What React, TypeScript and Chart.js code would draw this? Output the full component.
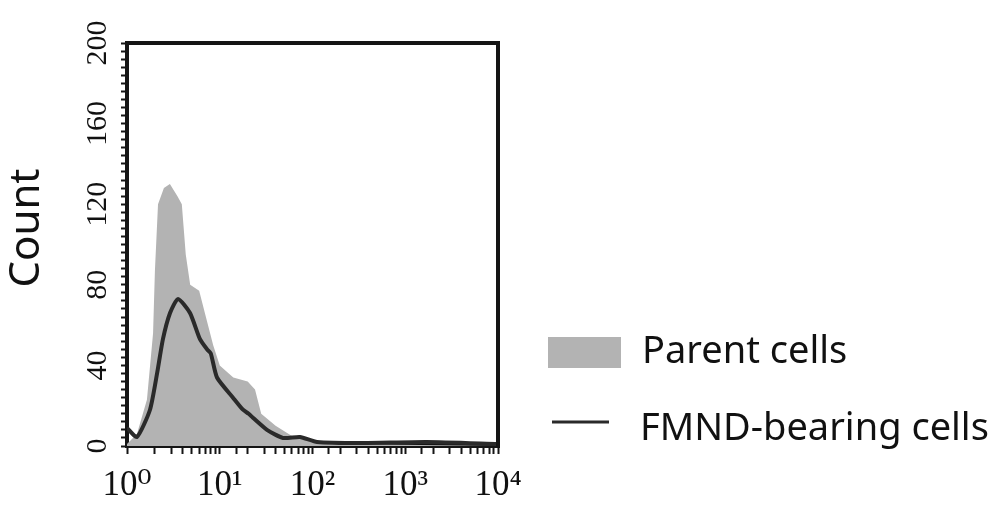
import React, { useEffect, useRef } from 'react';
import { Chart, registerables } from 'chart.js';

Chart.register(...registerables);

// ---- data ----
const parentLabel = 'Parent cells';
const fmndLabel = 'FMND-bearing cells';
const yTitle = 'Count';

const parentX = [1, 1.28, 1.64, 1.91, 2.0, 2.16, 2.5, 2.9, 3.5, 3.9, 4.3, 4.8, 6.0, 7.0, 8.5, 10, 14, 20, 24, 28, 40, 60, 100, 200, 10000];
const parentY = [1, 6, 23, 56, 87, 120, 128, 130, 124, 120, 95, 80, 77, 65, 50, 40, 34, 32, 28, 16, 10, 5, 2, 1, 0];

const fmndX = [1.0, 1.28, 1.77, 2.11, 2.44, 2.91, 3.55, 4.78, 6.12, 7.29, 8.0, 9.34, 13.9, 17.8, 20.5, 22.8, 32.3, 48.1, 73.3, 112, 330, 1700, 10000];
const fmndY = [9, 4.5, 18, 36, 53, 66, 73, 66, 53, 48, 46, 34, 24, 18, 16, 14, 8, 4, 4.5, 2, 1.5, 2, 1];

const yMin = 0;
const yMax = 200;
const yMajorStep = 40;
const yMinorStep = 4;
const xMin = 1;
const xMax = 10000;
const supDigits = ['⁰', '¹', '²', '³', '⁴', '⁵', '⁶', '⁷', '⁸', '⁹'];

const AXIS = '#151515';
const GRAY = '#b3b3b3';
const LINE = '#2a2a2a';

const framePlugin = {
  id: 'frameAndLegend',
  afterDraw(chart: any) {
    const { ctx, chartArea: a } = chart;
    ctx.save();
    // top and right frame
    ctx.strokeStyle = AXIS;
    ctx.lineWidth = 4;
    ctx.beginPath();
    ctx.moveTo(a.left - 2, a.top);
    ctx.lineTo(a.right, a.top);
    ctx.lineTo(a.right, a.bottom + 2);
    ctx.stroke();

    // y title
    ctx.save();
    ctx.translate(27, 228);
    ctx.rotate(-Math.PI / 2);
    ctx.font = '42px "Noto Sans"';
    ctx.fillStyle = '#111';
    ctx.textAlign = 'center';
    ctx.textBaseline = 'middle';
    ctx.fillText(yTitle, 0, 0);
    ctx.restore();

    // legend
    const ds = chart.data.datasets;
    ctx.fillStyle = GRAY;
    ctx.fillRect(548, 337, 73, 31);
    ctx.strokeStyle = LINE;
    ctx.lineWidth = 3;
    ctx.beginPath();
    ctx.moveTo(552, 422);
    ctx.lineTo(609, 422);
    ctx.stroke();
    ctx.fillStyle = '#111';
    ctx.font = '38px "Noto Sans"';
    ctx.textAlign = 'left';
    ctx.textBaseline = 'alphabetic';
    ctx.fillText(ds[0].label, 642, 363);
    ctx.fillText(ds[1].label, 640, 440);
    ctx.restore();
  },
};

export default function App() {
  const ref = useRef<HTMLCanvasElement | null>(null);

  useEffect(() => {
    if (!ref.current) return;
    const chart = new Chart(ref.current, {
      type: 'line',
      data: {
        datasets: [
          {
            label: parentLabel,
            data: parentX.map((x, i) => ({ x, y: parentY[i] })),
            borderWidth: 0,
            borderColor: GRAY,
            backgroundColor: GRAY,
            fill: 'origin',
            pointRadius: 0,
            tension: 0,
            order: 2,
          },
          {
            label: fmndLabel,
            data: fmndX.map((x, i) => ({ x, y: fmndY[i] })),
            borderWidth: 4,
            borderColor: LINE,
            backgroundColor: LINE,
            fill: false,
            pointRadius: 0,
            tension: 0.2,
            order: 1,
          },
        ],
      },
      options: {
        animation: false,
        responsive: false,
        maintainAspectRatio: false,
        layout: { padding: { left: 0, right: 503, top: 43, bottom: 0 } },
        plugins: { legend: { display: false }, tooltip: { enabled: false } },
        scales: {
          x: {
            type: 'logarithmic',
            min: xMin,
            max: xMax,
            afterFit: (s: any) => { s.height = 81; },
            border: { display: true, color: AXIS, width: 4 },
            grid: { display: true, drawOnChartArea: false, drawTicks: true, tickLength: 8, tickColor: AXIS, tickWidth: 2 },
            ticks: {
              autoSkip: false,
              maxRotation: 0,
              minRotation: 0,
              padding: 11,
              color: '#111',
              font: { family: '"Liberation Serif", "DejaVu Serif", serif', size: 35 },
              callback: (v: any) => {
                const e = Math.log10(Number(v));
                if (Math.abs(e - Math.round(e)) < 1e-9) return '10' + supDigits[Math.round(e)];
                return '';
              },
            },
          },
          y: {
            type: 'linear',
            min: yMin,
            max: yMax,
            afterFit: (s: any) => { s.width = 127; },
            border: { display: true, color: AXIS, width: 4 },
            grid: { display: true, drawOnChartArea: false, drawTicks: true, tickLength: 6, tickColor: AXIS, tickWidth: 2 },
            ticks: {
              stepSize: yMinorStep,
              autoSkip: false,
              minRotation: 90,
              maxRotation: 90,
              crossAlign: 'center',
              padding: 0,
              color: '#111',
              font: { family: '"Liberation Serif", "DejaVu Serif", serif', size: 30 },
              callback: (v: any) => (Number(v) % yMajorStep === 0 ? String(v) : ''),
            },
          },
        },
      },
      plugins: [framePlugin],
    } as any);
    return () => chart.destroy();
  }, []);

  return (
    <div style={{ position: 'fixed', left: 0, top: 0, width: 1001, height: 527, background: '#fff' }}>
      <canvas ref={ref} width={1001} height={527} style={{ width: 1001, height: 527, display: 'block' }} />
    </div>
  );
}
